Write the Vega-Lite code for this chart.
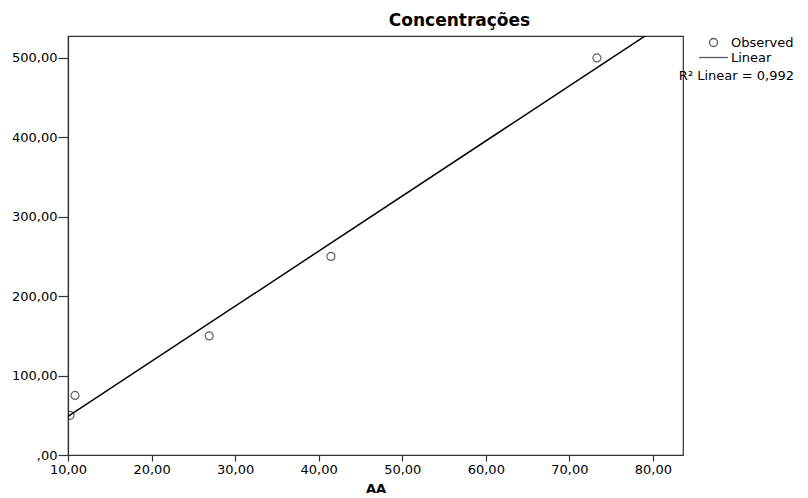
{
  "$schema": "https://vega.github.io/schema/vega-lite/v6.json",
  "autosize": "none",
  "width": 615,
  "height": 419,
  "padding": {"left": 68, "top": 36, "right": 125, "bottom": 43},
  "background": "white",
  "title": {
    "text": "Concentrações",
    "font": "DejaVu Sans",
    "fontSize": 17,
    "fontWeight": "bold",
    "color": "#000",
    "anchor": "middle",
    "dx": 84,
    "dy": 17,
    "baseline": "alphabetic",
    "offset": 10
  },
  "data": {
    "values": [
      {"AA": 10.24, "Concentracoes": 50},
      {"AA": 10.84, "Concentracoes": 75},
      {"AA": 26.9, "Concentracoes": 150},
      {"AA": 41.46, "Concentracoes": 250},
      {"AA": 73.3, "Concentracoes": 500}
    ]
  },
  "encoding": {
    "x": {
      "field": "AA",
      "type": "quantitative",
      "scale": {"domain": [10, 83.6], "nice": false, "zero": false},
      "axis": {
        "title": "AA",
        "values": [10, 20, 30, 40, 50, 60, 70, 80],
        "labelExpr": "replace(format(datum.value, '.2f'), '.', ',')",
        "tickSize": 6,
        "labelPadding": 2,
        "titlePadding": 6,
        "labelFlush": false,
        "labelOverlap": false
      }
    },
    "y": {
      "field": "Concentracoes",
      "type": "quantitative",
      "scale": {"domain": [0, 527.6], "nice": false, "zero": true},
      "axis": {
        "title": null,
        "values": [0, 100, 200, 300, 400, 500],
        "labelExpr": "datum.value == 0 ? ',00' : replace(format(datum.value, '.2f'), '.', ',')",
        "tickSize": 10,
        "labelPadding": 1,
        "labelFlush": false,
        "labelOverlap": false
      }
    }
  },
  "layer": [
    {
      "mark": {"type": "point", "filled": false, "clip": true, "color": "#222", "strokeWidth": 1.2, "size": 64},
      "encoding": {
        "shape": {
          "datum": "Observed",
          "scale": {"domain": ["Observed", "Linear"], "range": ["circle", "M-3.6,0H3.6"]},
          "legend": {
            "title": "R² Linear = 0,992",
            "titleOrient": "bottom",
            "titleAnchor": "end",
            "titleFont": "DejaVu Sans",
            "titleFontSize": 13,
            "titleFontWeight": "normal",
            "titleColor": "#000",
            "titlePadding": 5,
            "labelFont": "DejaVu Sans",
            "labelFontSize": 13,
            "labelColor": "#000",
            "labelOffset": 11,
            "symbolSize": 64,
            "symbolStrokeColor": "#111",
            "symbolFillColor": "white",
            "symbolStrokeWidth": 1.3,
            "rowPadding": 1,
            "padding": 0,
            "orient": "none",
            "legendX": 611,
            "legendY": 0
          }
        }
      }
    },
    {
      "transform": [
        {"regression": "Concentracoes", "on": "AA", "extent": [10, 83.6]}
      ],
      "mark": {"type": "line", "clip": true, "color": "#000", "strokeWidth": 1.5}
    }
  ],
  "config": {
    "view": {"stroke": "#333", "strokeWidth": 1.2},
    "axis": {
      "grid": false,
      "domainColor": "#333",
      "domainWidth": 1.2,
      "tickColor": "#333",
      "tickWidth": 1.2,
      "labelFont": "DejaVu Sans",
      "labelFontSize": 13,
      "labelColor": "#000",
      "titleFont": "DejaVu Sans",
      "titleFontSize": 13,
      "titleFontWeight": "bold",
      "titleColor": "#000"
    }
  }
}
